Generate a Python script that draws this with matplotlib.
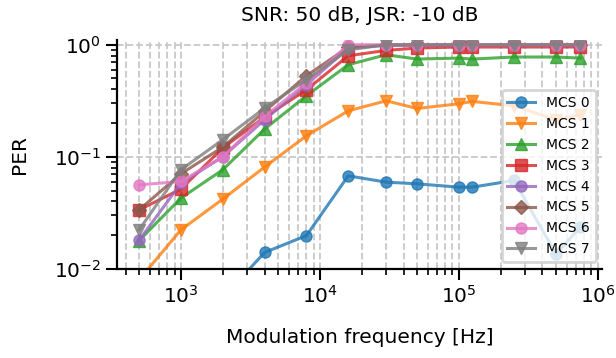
import numpy as np
import matplotlib
matplotlib.use('Agg')
import matplotlib.pyplot as plt

# modulation frequencies [Hz]
freqs = [500, 1000, 2000, 4000, 8000, 16000, 30000, 50000, 100000, 125000, 250000, 500000, 750000]

# packet error rate per MCS
mcs0 = [0.001, 0.002, 0.0055, 0.014, 0.0198, 0.0676, 0.0594, 0.0574, 0.0536, 0.0536, 0.0615, 0.0136, 0.0236]
mcs1 = [0.008, 0.0223, 0.0419, 0.081, 0.154, 0.257, 0.316, 0.270, 0.297, 0.312, 0.285, 0.214, 0.237]
mcs2 = [0.0179, 0.0428, 0.0766, 0.177, 0.35, 0.663, 0.814, 0.745, 0.76, 0.745, 0.777, 0.777, 0.76]
mcs3 = [0.0336, 0.0515, 0.12, 0.226, 0.396, 0.797, 0.89, 0.934, 0.954, 0.954, 0.954, 0.954, 0.954]
mcs4 = [0.0180, 0.058, 0.10, 0.214, 0.44, 0.93, 0.99, 0.99, 0.995, 0.995, 0.995, 0.995, 0.995]
mcs5 = [0.0336, 0.0705, 0.122, 0.254, 0.529, 0.95, 0.995, 0.995, 0.995, 0.995, 0.995, 1.0, 0.995]
mcs6 = [0.0562, 0.0602, 0.10, 0.229, 0.455, 1.0, 1.0, 1.0, 1.0, 1.0, 1.0, 1.0, 1.0]
mcs7 = [0.0223, 0.0766, 0.142, 0.272, 0.487, 0.90, 1.0, 1.0, 1.0, 1.0, 1.0, 1.0, 1.0]

series = [mcs0, mcs1, mcs2, mcs3, mcs4, mcs5, mcs6, mcs7]
labels = ['MCS 0', 'MCS 1', 'MCS 2', 'MCS 3', 'MCS 4', 'MCS 5', 'MCS 6', 'MCS 7']
markers = ['o', 'v', '^', 's', 'o', 'D', 'o', 'v']

fig, ax = plt.subplots(figsize=(6.16, 3.58), dpi=100)
fig.subplots_adjust(left=0.19, right=0.978, top=0.888, bottom=0.249)

for vals, lab, mk in zip(series, labels, markers):
    ms = 7 if mk == 'D' else 8
    ax.plot(freqs, vals, marker=mk, label=lab, lw=2.2, ms=ms, alpha=0.8)

ax.set_xscale('log')
ax.set_yscale('log')
ax.set_ylim(0.01, 1.1)

ax.grid(True, which='both', axis='x', ls='--', color='#c8c8c8', lw=1.3)
ax.grid(True, which='major', axis='y', ls='--', color='#c8c8c8', lw=1.3)
ax.set_axisbelow(True)

for side in ['top', 'right']:
    ax.spines[side].set_visible(False)
for side in ['left', 'bottom']:
    ax.spines[side].set_linewidth(1.6)

ax.tick_params(which='major', length=8, width=1.5, labelsize=14.5)
ax.tick_params(which='minor', length=4.5, width=1.2)

ax.set_xlabel('Modulation frequency [Hz]', fontsize=14.5, labelpad=15)
ax.set_ylabel('PER', fontsize=14.5, labelpad=18)
ax.set_title('SNR: 50 dB, JSR: -10 dB', fontsize=14.5, pad=14)

leg = ax.legend(loc='lower right', fontsize=10)
leg.get_frame().set_linewidth(2)
leg.get_frame().set_edgecolor('#cccccc')

plt.savefig('out.png', dpi=100)
